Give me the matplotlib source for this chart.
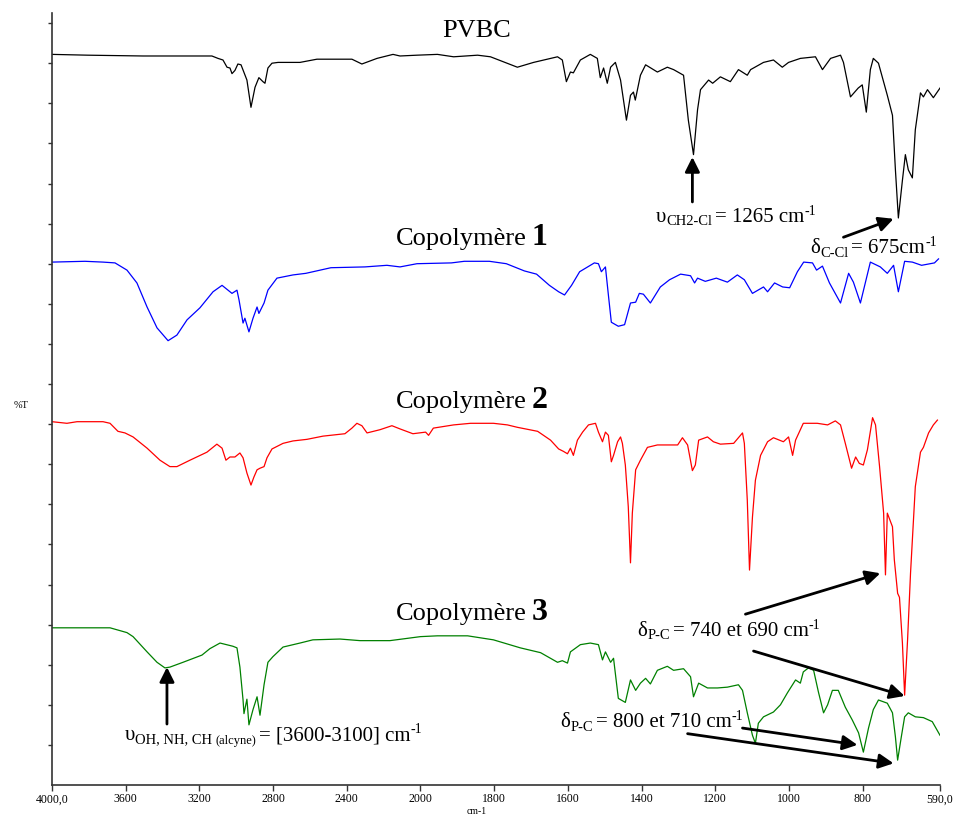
import numpy as np
import matplotlib
matplotlib.use("Agg")
import matplotlib.pyplot as plt
from matplotlib.transforms import IdentityTransform

plt.rcParams['font.family'] = ['Liberation Serif', 'DejaVu Serif']

# ---------------- data (wavenumber cm-1, %T offset) ----------------
pvbc_wn = [4000, 3805, 3506, 3132, 3099, 3072, 3050, 3034, 3023, 3007, 2991, 2974, 2942, 2920,
           2898, 2877, 2855, 2844, 2828, 2806, 2773, 2654, 2562, 2372, 2318, 2236, 2149, 2111,
           2019, 1954, 1910, 1845, 1810, 1737, 1693, 1628, 1615, 1604, 1593, 1585, 1566, 1539,
           1520, 1512, 1503, 1493, 1484, 1471, 1457, 1441, 1430, 1422, 1417, 1403, 1389, 1357,
           1330, 1313, 1286, 1273, 1259, 1248, 1240, 1218, 1207, 1186, 1159, 1137, 1113, 1104,
           1069, 1042, 1018, 1001, 969, 928, 909, 887, 860, 852, 833, 812, 801, 790, 779, 771,
           757, 733, 719, 711, 703, 692, 684, 676, 665, 657, 643, 635, 624, 608, 590]
pvbc_t = [91.1, 91.0, 90.9, 90.9, 90.6, 90.4, 89.5, 89.4, 88.7, 89.1, 89.9, 89.8, 87.9, 84.5,
          87.0, 88.2, 87.7, 87.5, 89.4, 90.0, 90.1, 90.1, 90.5, 90.5, 89.9, 90.6, 91.1, 90.9,
          91.0, 91.1, 90.8, 91.0, 90.8, 89.5, 90.1, 90.8, 90.4, 87.7, 88.9, 88.8, 90.4, 91.1,
          90.6, 88.2, 89.4, 87.5, 89.5, 90.1, 87.9, 82.9, 86.0, 86.4, 85.4, 88.5, 89.8, 88.9,
          89.5, 89.2, 88.5, 82.9, 78.6, 84.2, 86.7, 87.9, 87.5, 88.3, 87.7, 89.2, 88.5, 89.2,
          90.1, 90.4, 89.5, 90.1, 90.6, 90.8, 89.2, 90.6, 91.0, 90.1, 85.8, 86.9, 87.3, 83.9, 89.2, 90.6,
          90.0, 86.0, 83.5, 76.7, 70.7, 75.4, 78.6, 76.7, 75.7, 81.7, 86.3, 85.8, 86.7, 85.7, 86.9]

cop1_wn = [4000, 3821, 3723, 3658, 3593, 3539, 3484, 3430, 3370, 3322, 3267, 3197, 3126, 3077,
           3023, 2996, 2985, 2963, 2953, 2931, 2909, 2887, 2877, 2849, 2828, 2779, 2692, 2622,
           2486, 2301, 2182, 2111, 2019, 1916, 1881, 1813, 1767, 1718, 1685, 1650, 1625, 1609,
           1590, 1568, 1528, 1517, 1509, 1498, 1490, 1482, 1463, 1446, 1430, 1416, 1406, 1395,
           1376, 1349, 1324, 1294, 1267, 1256, 1248, 1227, 1197, 1167, 1140, 1121, 1099, 1069,
           1058, 1039, 1017, 998, 977, 960, 936, 925, 909, 890, 860, 838, 825, 806, 779, 752,
           733, 716, 703, 686, 665, 640, 605, 594]
cop1_t = [65.2, 65.3, 65.2, 65.1, 64.2, 62.6, 59.6, 57.0, 55.4, 56.1, 58.0, 59.5, 61.5, 62.3,
          61.3, 61.7, 60.5, 57.6, 58.2, 56.5, 58.2, 59.6, 58.8, 60.1, 61.7, 63.2, 63.6, 63.8,
          64.5, 64.6, 64.8, 64.6, 65.0, 65.1, 65.3, 65.3, 65.0, 64.1, 63.7, 62.3, 61.5, 61.1,
          62.3, 64.0, 65.1, 65.0, 64.0, 64.6, 61.1, 57.7, 57.2, 57.4, 60.1, 60.2, 61.3, 61.2,
          60.1, 62.1, 63.0, 63.7, 63.5, 62.6, 63.2, 62.8, 63.2, 62.7, 63.6, 63.0, 61.3, 62.1,
          61.5, 62.6, 62.1, 62.0, 64.0, 65.2, 65.1, 64.2, 64.7, 62.6, 60.1, 63.8, 62.7, 60.1, 65.2, 64.6,
          63.8, 64.8, 61.5, 65.3, 65.2, 64.8, 65.1, 65.6]

cop2_wn = [4000, 3919, 3864, 3723, 3685, 3642, 3604, 3560, 3484, 3414, 3360, 3322, 3251, 3159,
           3105, 3077, 3056, 3034, 3007, 2980, 2963, 2942, 2920, 2904, 2887, 2871, 2849, 2833,
           2806, 2746, 2692, 2616, 2529, 2410, 2372, 2345, 2318, 2290, 2220, 2155, 2111, 2041,
           1986, 1978, 1965, 1910, 1864, 1802, 1764, 1737, 1682, 1647, 1625, 1612, 1601, 1593,
           1585, 1574, 1560, 1544, 1525, 1517, 1506, 1498, 1490, 1482, 1476, 1465, 1457, 1452,
           1444, 1436, 1430, 1425, 1416, 1403, 1384, 1357, 1302, 1289, 1275, 1262, 1254, 1245,
           1221, 1205, 1186, 1150, 1126, 1121, 1113, 1107, 1099, 1091, 1077, 1058, 1042, 1015,
           1001, 990, 982, 961, 923, 895, 874, 860, 847, 830, 819, 809, 798, 787, 773, 765,
           754, 743, 738, 733, 719, 714, 705, 700, 692, 686, 678, 670, 657, 643, 635, 621, 608, 597]
cop2_t = [45.3, 45.1, 45.3, 45.3, 45.1, 44.1, 43.9, 43.4, 42.0, 40.5, 39.7, 39.7, 40.5, 41.5,
          42.5, 42.0, 40.5, 40.9, 40.9, 41.4, 40.8, 38.9, 37.4, 38.4, 39.3, 39.5, 39.7, 40.8,
          41.9, 42.6, 42.9, 43.1, 43.5, 43.8, 44.5, 45.1, 44.8, 43.9, 44.3, 44.8, 44.4, 43.8,
          44.0, 43.6, 44.5, 44.9, 45.1, 45.1, 44.9, 44.6, 44.1, 43.0, 41.9, 41.6, 41.3, 42.0,
          41.1, 43.0, 44.0, 44.9, 45.1, 44.0, 42.8, 44.0, 43.6, 40.3, 41.1, 42.8, 43.4, 42.6,
          39.9, 34.7, 27.7, 33.9, 39.3, 40.5, 42.1, 42.4, 42.4, 43.3, 42.4, 39.2, 39.9, 43.0,
          43.4, 42.8, 42.5, 42.6, 43.9, 42.6, 35.5, 26.8, 33.4, 38.0, 41.1, 42.8, 43.3, 42.8,
          43.4, 41.1, 43.0, 45.1, 45.1, 44.9, 45.4, 44.9, 42.6, 39.5, 40.9, 40.1, 39.9, 41.8, 45.8, 44.9,
          39.7, 33.9, 26.2, 33.9, 32.2, 28.1, 23.9, 23.4, 17.7, 11.2, 18.1, 26.4, 37.2, 41.5, 42.1, 43.9, 44.9, 45.5]

cop3_wn = [4000, 3685, 3593, 3560, 3484, 3430, 3387, 3360, 3289, 3186, 3143, 3088, 3018, 2996,
           2980, 2963, 2958, 2942, 2931, 2909, 2887, 2871, 2849, 2828, 2801, 2746, 2654, 2584,
           2437, 2328, 2166, 2000, 1954, 1872, 1802, 1729, 1674, 1628, 1615, 1601, 1593, 1566,
           1539, 1517, 1506, 1498, 1484, 1476, 1463, 1444, 1430, 1416, 1403, 1389, 1376, 1357,
           1330, 1313, 1286, 1267, 1259, 1245, 1221, 1194, 1167, 1137, 1126, 1113, 1099, 1091,
           1083, 1069, 1042, 1023, 1004, 982, 969, 961, 947, 933, 920, 906, 895, 882, 866, 847,
           828, 811, 798, 784, 771, 757, 733, 719, 711, 705, 695, 686, 676, 657, 635, 611, 590]
cop3_t = [19.6, 19.6, 19.0, 18.5, 16.6, 15.3, 14.6, 14.7, 15.3, 16.2, 17.0, 17.7, 17.3, 17.1,
          14.7, 10.6, 8.9, 10.7, 7.5, 9.4, 11.0, 8.7, 12.5, 15.3, 16.0, 17.2, 17.7, 18.1,
          18.2, 18.0, 18.0, 18.5, 18.6, 18.6, 18.1, 17.1, 16.5, 15.3, 15.5, 15.2, 16.6, 17.5,
          17.7, 17.5, 15.6, 16.6, 15.3, 15.8, 10.8, 10.3, 13.1, 11.8, 12.7, 13.3, 12.6, 14.3,
          14.8, 14.3, 14.5, 13.5, 11.0, 12.7, 12.1, 12.1, 12.2, 12.5, 11.8, 9.0, 6.2, 5.2,
          7.7, 8.5, 9.1, 10.0, 11.5, 13.1, 12.7, 14.1, 14.6, 14.3, 11.6, 9.0, 10.0, 11.8, 11.8, 9.7,
          8.1, 6.5, 4.1, 7.1, 9.4, 10.6, 10.2, 9.0, 6.0, 3.1, 6.0, 8.5, 9.0, 8.5, 8.4, 7.9, 6.2]

xticks = [4000, 3600, 3200, 2800, 2400, 2000, 1800, 1600, 1400, 1200, 1000, 800, 590]
xticklabels = ["4000,0", "3600", "3200", "2800", "2400", "2000", "1800", "1600",
               "1400", "1200", "1000", "800", "590,0"]
series_names = ["PVBC", "Copolymère", "Copolymère", "Copolymère"]
series_nums = ["", "1", "2", "3"]
colors = ["black", "#0000ff", "#ff0000", "#008000"]


# piecewise wavenumber scale (expanded below 2000 cm-1)
def fwd(v):
    v = np.asarray(v, dtype=float)
    return np.where(v >= 2000, 5 + (v - 2000) / 400.0, 5 + (v - 2000) / 200.0)


def inv(p):
    p = np.asarray(p, dtype=float)
    return np.where(p >= 5, 2000 + (p - 5) * 400.0, 2000 + (p - 5) * 200.0)


fig = plt.figure(figsize=(9.55, 8.18), dpi=100)
ax = fig.add_axes([52 / 955, 33 / 818, 888 / 955, 772 / 818])
ax.set_xscale('function', functions=(fwd, inv))
ax.set_xlim(4000, 590)
ax.set_ylim(0, 96.26)

for wn, t, c in zip([pvbc_wn, cop1_wn, cop2_wn, cop3_wn],
                    [pvbc_t, cop1_t, cop2_t, cop3_t], colors):
    ax.plot(wn, t, color=c, lw=0.9)

ax.set_xticks(xticks)
ax.set_xticklabels(xticklabels)
ax.set_yticks(np.arange(5, 96, 5))
ax.set_yticklabels([])
ax.minorticks_off()
ax.tick_params(axis='x', direction='out', length=4, width=1, pad=2, labelsize=8.5,
               colors='#333333', labelcolor='black')
ax.tick_params(axis='y', direction='out', length=3, width=1, colors='#333333')
for s in ['top', 'right']:
    ax.spines[s].set_visible(False)
for s in ['left', 'bottom']:
    ax.spines[s].set_color('#333333')
    ax.spines[s].set_linewidth(1.2)

fig.text(21 / 955, 1 - 405 / 818, "%T", fontsize=7.5, ha='center', va='center')
fig.text(477 / 955, 1 - 812 / 818, "cm-1", fontsize=7, ha='center', va='center')

# series titles
ax.text(1848, 93.3, series_names[0], fontsize=19, ha='center', va='baseline')
for base, name, num in zip([67.3, 47.0, 20.6], series_names[1:], series_nums[1:]):
    ax.text(1712, base, name, fontsize=19, ha='right', va='baseline')
    ax.text(1698, base, num, fontsize=23, fontweight='bold', ha='left', va='baseline')

fig.canvas.draw()
renderer = fig.canvas.get_renderer()
PX = 100 / 72.0


def chain_text(x, y, pieces):
    X, Y = ax.transData.transform((x, y))
    for txt, size, dy, gap in pieces:
        X += gap
        t = fig.text(X, Y + dy * PX, txt, fontsize=size, ha='left', va='baseline',
                     transform=IdentityTransform())
        X = t.get_window_extent(renderer).x1


arrow = dict(arrowstyle='-|>', lw=2.0, color='black', mutation_scale=22, shrinkA=0, shrinkB=0)

# annotations
chain_text(1362, 70.2, [("υ", 15, 0, 0), ("CH2-Cl", 10.5, -2.5, 0),
                        ("= 1265 cm", 15, 0, 3), ("-1", 10, 5, 0)])
ax.annotate('', xy=(1262, 78.3), xytext=(1262, 72.7), arrowprops=arrow)

chain_text(942, 66.3, [("δ", 15, 0, 0), ("C-Cl", 10.5, -2.5, 0),
                       ("= 675cm", 15, 0, 3), ("-1", 10, 5, 0)])
ax.annotate('', xy=(716, 70.6), xytext=(852, 68.3), arrowprops=arrow)

chain_text(3604, 5.6, [("υ", 15, 0, 0), ("OH, NH, CH", 10.5, -2.5, 0),
                       ("(alcyne)", 9, -2.5, 3), ("= [3600-3100] cm", 15, 0, 3), ("-1", 10, 5, 0)])
ax.annotate('', xy=(3376, 14.7), xytext=(3376, 7.6), arrowprops=arrow)

chain_text(1411, 18.6, [("δ", 15, 0, 0), ("P-C", 10.5, -2.5, 0),
                        ("= 740 et 690 cm", 15, 0, 3), ("-1", 10, 5, 0)])
ax.annotate('', xy=(752, 26.4), xytext=(1118, 21.3), arrowprops=arrow)
ax.annotate('', xy=(686, 11.1), xytext=(1096, 16.7), arrowprops=arrow)

chain_text(1620, 7.2, [("δ", 15, 0, 0), ("P-C", 10.5, -2.5, 0),
                       ("= 800 et 710 cm", 15, 0, 3), ("-1", 10, 5, 0)])
ax.annotate('', xy=(814, 5.0), xytext=(1126, 7.1), arrowprops=arrow)
ax.annotate('', xy=(716, 2.7), xytext=(1275, 6.4), arrowprops=arrow)

fig.savefig("out.png", dpi=100)
